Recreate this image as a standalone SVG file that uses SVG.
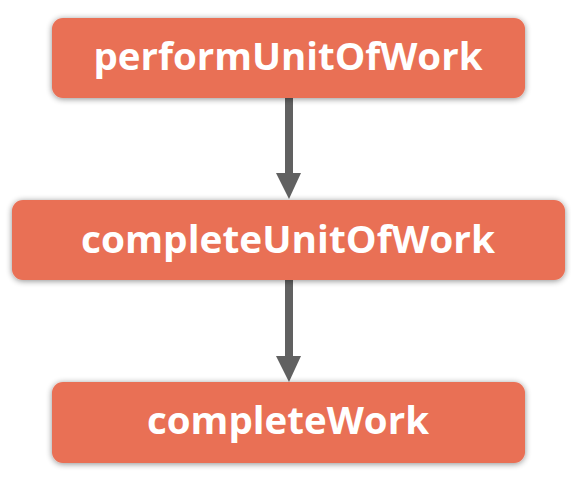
<svg xmlns="http://www.w3.org/2000/svg" width="571" height="486" viewBox="0 0 571 486">
<defs>
<filter id="sh" x="-10%" y="-30%" width="120%" height="160%">
<feGaussianBlur in="SourceAlpha" stdDeviation="3"/>
<feOffset dx="0" dy="1" result="b"/>
<feComponentTransfer><feFuncA type="linear" slope="0.45"/></feComponentTransfer>
<feMerge><feMergeNode/><feMergeNode in="SourceGraphic"/></feMerge>
</filter>
</defs>
<style>
.box{fill:#E96F55;filter:url(#sh)}
.lbl{font-family:"Open Sans",Lato,sans-serif;font-weight:bold;font-size:37px;fill:#fff;text-anchor:middle}
.edge{stroke:#616161;stroke-width:8;fill:none}
.head{fill:#616161}
</style>
<rect width="571" height="486" fill="#fff"/>
<g id="connectors">
<line class="edge" x1="289" y1="98" x2="289" y2="174"/>
<path class="head" d="M276,173 L301,173 L289,199 Z"/>
<line class="edge" x1="289" y1="280" x2="289" y2="357"/>
<path class="head" d="M276,356 L301,356 L289,382 Z"/>
</g>
<g id="n1">
<rect class="box" x="52" y="18" width="473" height="80" rx="11"/>
<text class="lbl" x="288" y="70" textLength="389" lengthAdjust="spacingAndGlyphs">performUnitOfWork</text>
</g>
<g id="n2">
<rect class="box" x="12" y="200" width="553" height="80" rx="11"/>
<text class="lbl" x="288" y="253" textLength="414" lengthAdjust="spacingAndGlyphs">completeUnitOfWork</text>
</g>
<g id="n3">
<rect class="box" x="52" y="382" width="473" height="81" rx="11"/>
<text class="lbl" x="288" y="434" textLength="282" lengthAdjust="spacingAndGlyphs">completeWork</text>
</g>
</svg>
